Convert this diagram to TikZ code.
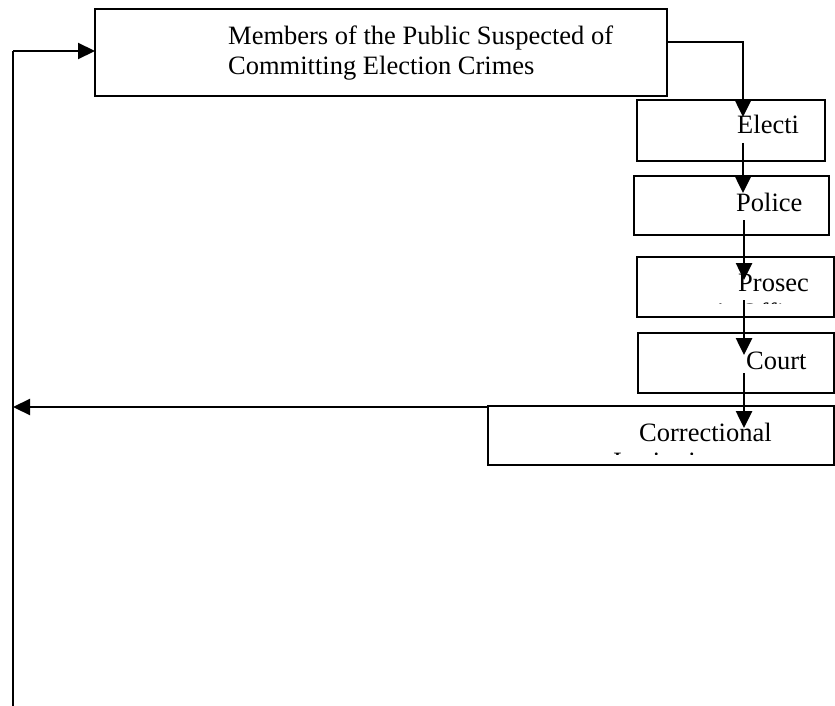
\documentclass[tikz,border=0pt]{standalone}
\usepackage{fontspec}
\setmainfont{Liberation Serif}
\usetikzlibrary{arrows.meta}
\begin{document}
\begin{tikzpicture}[x=1pt,y=-1pt,
  box/.style={draw,line width=2pt,inner sep=0pt},
  lbl/.style={anchor=base west,inner sep=0pt,font=\fontsize{26.5}{30}\selectfont},
  conn/.style={draw,line width=2.6pt,-{Triangle[length=17pt,width=16pt]}},
  loop/.style={draw,line width=2.2pt}]
\useasboundingbox (0,0) rectangle (835,706);
% boxes
\draw[box] (95,9) rectangle (667,96);
\draw[box] (637,100) rectangle (825,161);
\draw[box] (634,176) rectangle (829,235);
\draw[box] (637,257) rectangle (834,317);
\draw[box] (638,333) rectangle (834,393);
\draw[box] (488,406) rectangle (834,465);
% labels
\node[lbl] (pub1) at (228,45) {Members of the Public Suspected of};
\node[lbl] (pub2) at (228,75) {Committing Election Crimes};
\node[lbl] (elec) at (737,134) {Electi};
\node[lbl] (pol) at (736,211) {Police};
\node[lbl] (pros) at (738,291) {Prosec};
\begin{scope}
  \clip (637,257) rectangle (834,303);
  \node[lbl] (pros2) at (716,321) {’s Office};
\end{scope}
\node[lbl] (court) at (746,369) {Court};
\node[lbl] (corr) at (639,441) {Correctional};
\begin{scope}
  \clip (488,406) rectangle (834,454);
  \node[lbl] (corr2) at (613,470) {Institutions};
\end{scope}
% connector coordinates
\coordinate (pubout) at (667,42);
\coordinate (elecin) at (743,117);
\coordinate (elecout) at (743,143);
\coordinate (polin) at (743,193);
\coordinate (polout) at (744,220);
\coordinate (prosin) at (744,280);
\coordinate (prosout) at (744,300);
\coordinate (courtin) at (744,355);
\coordinate (courtout) at (744,373);
\coordinate (corrin) at (744,428);
\coordinate (corrleft) at (488,407);
\coordinate (loopin) at (13,407);
\coordinate (loopbot) at (13,706);
\coordinate (looptop) at (13,51);
\coordinate (pubin) at (95,51);
% connectors
\draw[conn] (pubout) -| (elecin);
\draw[conn] (elecout) -- (polin);
\draw[conn] (polout) -- (prosin);
\draw[conn] (prosout) -- (courtin);
\draw[conn] (courtout) -- (corrin);
\draw[conn,line width=2.2pt] (corrleft) -- (loopin);
\draw[loop] (loopbot) -- (looptop);
\draw[conn,line width=2.2pt] (looptop) -- (pubin);
\end{tikzpicture}
\end{document}
